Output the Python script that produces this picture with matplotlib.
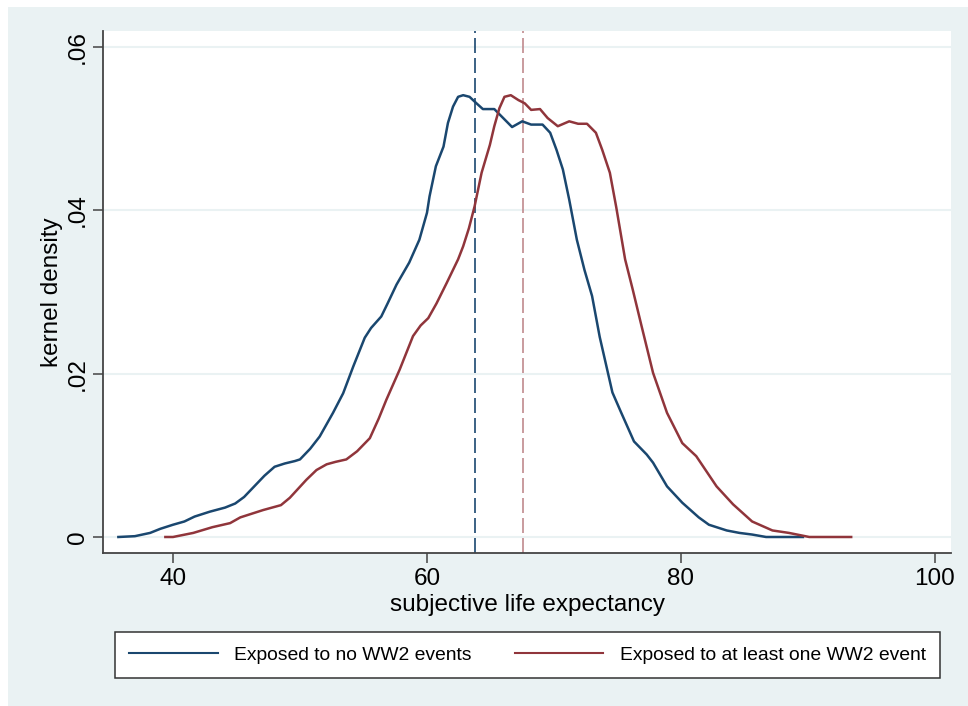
import numpy as np
import matplotlib
matplotlib.use('Agg')
import matplotlib.pyplot as plt
from matplotlib.patches import Rectangle

plt.rcParams['font.family'] = ['Liberation Sans', 'DejaVu Sans']

# kernel density, no exposure to WW2 events
x_none = [35.7, 37.0, 38.2, 39.0, 40.0, 40.9, 41.7, 42.9, 44.1, 44.9, 45.6, 46.4, 47.2, 48.0,
          48.8, 49.6, 50.0, 50.8, 51.55, 52.6, 53.4, 54.2, 55.1, 55.6, 56.4, 56.9, 57.6, 58.6,
          59.4, 60.0, 60.2, 60.7, 61.3, 61.65, 62.05, 62.45, 62.85, 63.35, 63.9, 64.4, 65.3,
          66.0, 66.7, 67.5, 68.2, 69.1, 69.7, 70.2, 70.7, 71.2, 71.8, 72.4, 73.0, 73.6, 74.6,
          75.3, 76.3, 77.3, 77.8, 78.9, 80.1, 81.4, 82.2, 83.6, 84.6, 85.6, 86.7, 89.6]
y_none = [0.0, 0.0001, 0.0005, 0.001, 0.0015, 0.0019, 0.0025, 0.0031, 0.0036, 0.0041, 0.0049,
          0.0062, 0.0075, 0.0086, 0.009, 0.0093, 0.0095, 0.0108, 0.0123, 0.0152, 0.0176, 0.0209,
          0.0244, 0.0256, 0.027, 0.0286, 0.0309, 0.0336, 0.0364, 0.0397, 0.0417, 0.0454, 0.0478,
          0.0507, 0.0527, 0.0539, 0.0541, 0.0539, 0.0531, 0.0524, 0.0524, 0.0513, 0.0502, 0.0509,
          0.0505, 0.0505, 0.0495, 0.0474, 0.045, 0.0413, 0.0364, 0.0327, 0.0295, 0.0245, 0.0177,
          0.0152, 0.0117, 0.0101, 0.0091, 0.0062, 0.0042, 0.0024, 0.0015, 0.0008, 0.0005, 0.0003,
          0.0, 0.0]

# kernel density, exposed to at least one WW2 event
x_some = [39.4, 40.0, 41.6, 43.1, 44.5, 45.3, 47.1, 48.5, 49.2, 50.5, 51.3, 52.1, 52.8, 53.65,
          54.5, 55.5, 56.2, 56.8, 57.85, 58.9, 59.5, 60.1, 60.75, 61.55, 62.45, 62.85, 63.3,
          63.75, 64.3, 64.95, 65.3, 65.7, 66.1, 66.6, 67.2, 67.7, 68.2, 68.9, 69.5, 70.3, 71.2,
          71.9, 72.6, 73.3, 73.8, 74.4, 74.9, 75.6, 76.2, 76.9, 77.8, 78.9, 80.1, 81.2, 82.8,
          84.1, 85.6, 87.2, 88.5, 90.1, 93.4]
y_some = [0.0, 0.0, 0.0005, 0.0012, 0.0017, 0.0024, 0.0033, 0.0039, 0.0048, 0.007, 0.0082,
          0.0089, 0.0092, 0.0095, 0.0105, 0.0121, 0.0145, 0.0168, 0.0205, 0.0246, 0.0259, 0.0268,
          0.0286, 0.0311, 0.034, 0.0356, 0.0378, 0.0405, 0.0446, 0.048, 0.0503, 0.0525, 0.0539,
          0.0541, 0.0535, 0.0531, 0.0523, 0.0524, 0.0513, 0.0503, 0.0509, 0.0506, 0.0506, 0.0495,
          0.0474, 0.0446, 0.0404, 0.034, 0.0303, 0.0258, 0.0201, 0.0152, 0.0115, 0.0099, 0.0062,
          0.004, 0.0019, 0.0008, 0.0005, 0.0, 0.0]

mean_none = 63.76
mean_some = 67.53

labels = ['Exposed to no WW2 events', 'Exposed to at least one WW2 event']
navy = '#1A476F'
maroon = '#90353B'
bg = '#EAF2F3'

fig = plt.figure(figsize=(9.68, 7.06), dpi=100)
fig.patch.set_facecolor('white')
# outer graph region (Stata style), leaves a thin white strip top/left
fig.patches.append(Rectangle((8 / 968, 0), 1, 1 - 7 / 706, transform=fig.transFigure,
                             facecolor=bg, edgecolor='none', zorder=-10))

ax = fig.add_axes([103 / 968, 153 / 706, 848 / 968, 522 / 706])
ax.set_facecolor('white')

l1, = ax.plot(x_none, y_none, color=navy, lw=1.8, label=labels[0], zorder=3)
l2, = ax.plot(x_some, y_some, color=maroon, lw=1.8, label=labels[1], zorder=3)
ax.axvline(mean_none, color=navy, lw=1.2, dashes=(9, 3), zorder=2)
ax.axvline(mean_some, color='#C08A8E', lw=1.2, dashes=(9, 3), zorder=2)

ax.set_xlim(34.49, 101.26)
ax.set_ylim(-0.00196, 0.06196)
ax.set_xticks([40, 60, 80, 100])
ax.set_yticks([0, 0.02, 0.04, 0.06])
ax.set_yticklabels(['0', '.02', '.04', '.06'], rotation=90, va='center')
ax.grid(axis='y', color=bg, lw=1.5)
ax.set_axisbelow(True)

for s in ['top', 'right']:
    ax.spines[s].set_visible(False)
for s in ['left', 'bottom']:
    ax.spines[s].set_color('#444444')
    ax.spines[s].set_linewidth(1.3)
ax.tick_params(length=7, width=1.1, color='#444444', labelsize=17.5)
ax.tick_params(axis='y', pad=3)
ax.tick_params(axis='x', pad=4)

ax.set_xlabel('subjective life expectancy', fontsize=17.5, labelpad=3)
ax.set_ylabel('kernel density', fontsize=17.5, labelpad=3)

leg = fig.legend(handles=[l1, l2], labels=labels, loc='center',
                 bbox_to_anchor=(527.5 / 968, 1 - 655 / 706), ncol=2, fontsize=13.9,
                 frameon=True, fancybox=False, edgecolor='#333333', framealpha=1,
                 handlelength=4.56, columnspacing=2.3, handletextpad=0.83,
                 borderpad=0.75)
leg.get_frame().set_linewidth(1.1)
for h in leg.legend_handles:
    h.set_linewidth(1.5)

fig.savefig('out.png', dpi=100)
